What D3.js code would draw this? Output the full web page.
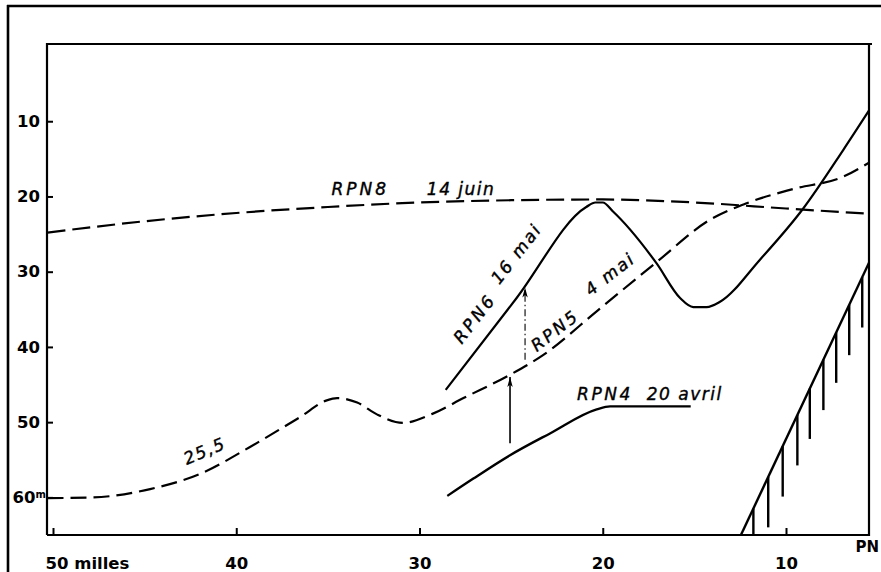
<!DOCTYPE html>
<html><head><meta charset="utf-8">
<script src="https://cdn.jsdelivr.net/npm/d3@7/dist/d3.min.js"></script>
<style>
html,body{margin:0;padding:0;background:#fff;}
svg{display:block;}
text{font-family:"DejaVu Sans",sans-serif;fill:#000;}
</style></head><body>
<svg id="c" width="881" height="572"></svg>
<script>
// ---- data (distance in milles, depth in m) ----
const xTicks = [50, 40, 30, 20, 10];
const xTickLabels = ["50 milles", "40", "30", "20", "10"];
const yTicks = [10, 20, 30, 40, 50, 60];
const yTickLabels = ["10", "20", "30", "40", "50", "60"];

const rpn8 = [[50.3,24.8],[45,23.3],[40,22.2],[35,21.4],[30,20.8],[25,20.5],[20,20.4],[15,20.8],[10,21.6],[5.47,22.3]];
const rpn5 = [[50.3,60.1],[47.8,60.0],[44.7,58.9],[42.0,56.9],[39.25,53.3],[37.45,50.7],[36.5,49.3],[35.06,47.1],[34.5,46.8],[33.4,47.4],[32.3,49.0],[30.9,50.1],[29.3,48.9],[27.6,46.8],[25.06,43.7],[23.26,41.1],[20.3,35.2],[17.05,28.7],[14.15,23.1],[12.15,20.9],[9.6,19.0],[6.9,17.4],[5.47,15.5]];
const rpn6 = [[28.57,45.7],[24.7,33.5],[20.9,21.4],[20.4,20.8],[20.0,20.8],[19.44,22.0],[17.06,28.9],[15.78,33.5],[15.06,34.7],[14.33,34.7],[13.6,34.0],[11.42,28.4],[9.06,21.6],[6.87,13.8],[5.45,8.5]];
const rpn4 = [[28.48,59.8],[27.06,57.5],[25.06,54.4],[22.88,51.5],[20.33,48.3],[19.6,47.9],[15.2,47.9]];
const seafloor = [[12.46,65],[5.45,28.7]];
const hatchMiles = [11.78,10.97,10.18,9.38,8.70,7.96,7.26,6.55,5.84];
const hatchLength = 6.7;
const arrowSolid = [[25.06,52.8],[25.06,44.0]];
const arrowDashDot = [[24.24,41.7],[24.24,32.1]];

// ---- layout ----
const W = 881, H = 572;
const plotLeft = 47, plotRight = 869, plotTop = 44, plotBottom = 535;
const svg = d3.select("#c");
const x = d3.scaleLinear().domain([50, 10]).range([53, 786]);
const y = d3.scaleLinear().domain([0, 65]).range([46, 535]);

const defs = svg.append("defs");
defs.append("clipPath").attr("id","plot").append("rect")
  .attr("x",plotLeft).attr("y",plotTop).attr("width",plotRight-plotLeft).attr("height",plotBottom-plotTop);
defs.append("marker").attr("id","arr").attr("viewBox","0 0 10 6")
  .attr("refX",10).attr("refY",3).attr("markerWidth",11).attr("markerHeight",6)
  .attr("markerUnits","userSpaceOnUse").attr("orient","auto")
  .append("path").attr("d","M0,0.3 L10,3 L0,5.7 L2.5,3 Z").attr("fill","#000");

// outer frame
svg.append("line").attr("x1",7).attr("y1",6).attr("x2",W).attr("y2",6).attr("stroke","#000").attr("stroke-width",2.6);
svg.append("line").attr("x1",8).attr("y1",5).attr("x2",8).attr("y2",H).attr("stroke","#000").attr("stroke-width",2.6);

// plot frame
svg.append("path")
  .attr("d",`M${plotLeft},${plotBottom}V${plotTop}H${plotRight+3}M${plotRight},${plotTop}V${plotBottom}H${plotLeft}`)
  .attr("fill","none").attr("stroke","#000").attr("stroke-width",2.2);

// axes
const yAxis = d3.axisLeft(y).tickValues(yTicks).tickFormat((d,i)=>yTickLabels[i])
  .tickSizeInner(-6).tickSizeOuter(0).tickPadding(7);
const gy = svg.append("g").attr("transform",`translate(${plotLeft},0)`).call(yAxis);
gy.select(".domain").remove();
gy.selectAll(".tick line").attr("stroke","#000").attr("stroke-width",2);
gy.selectAll(".tick text").style("font-size","16.5px").style("font-weight","bold").attr("fill","#000");
gy.selectAll(".tick text").filter(d=>d===60).append("tspan")
  .attr("dy","-0.55em").attr("dx","0").style("font-size","10px").text("m");
gy.selectAll(".tick text").filter(d=>d===60).attr("x",-1);

const xAxis = d3.axisBottom(x).tickValues(xTicks).tickFormat((d,i)=>xTickLabels[i])
  .tickSizeInner(-7).tickSizeOuter(0).tickPadding(22);
const gx = svg.append("g").attr("transform",`translate(0,${plotBottom})`).call(xAxis);
gx.select(".domain").remove();
gx.selectAll(".tick line").attr("stroke","#000").attr("stroke-width",2);
gx.selectAll(".tick text").style("font-size","16.5px").style("font-weight","bold").attr("fill","#000");
gx.selectAll(".tick text").filter(d=>d===50).attr("text-anchor","start").attr("x",-8);
svg.append("text").attr("x",879).attr("y",552).attr("text-anchor","end")
  .style("font-size","15px").style("font-weight","bold").text("PN");

// curves
const line = d3.line().x(d=>x(d[0])).y(d=>y(d[1])).curve(d3.curveMonotoneX);
const plot = svg.append("g").attr("clip-path","url(#plot)");
plot.append("path").attr("d",line(rpn8)).attr("fill","none").attr("stroke","#000").attr("stroke-width",2.2).attr("stroke-dasharray","18,7");
plot.append("path").attr("d",line(rpn5)).attr("fill","none").attr("stroke","#000").attr("stroke-width",2.2).attr("stroke-dasharray","16,7");
plot.append("path").attr("d",line(rpn6)).attr("fill","none").attr("stroke","#000").attr("stroke-width",2.2);
plot.append("path").attr("d",line(rpn4)).attr("fill","none").attr("stroke","#000").attr("stroke-width",2.4);

// sea floor slope + hatching
const straight = d3.line().x(d=>x(d[0])).y(d=>y(d[1]));
plot.append("path").attr("d",straight(seafloor)).attr("fill","none").attr("stroke","#000").attr("stroke-width",2.4);
const floorDepth = d3.scaleLinear().domain([seafloor[0][0],seafloor[1][0]]).range([seafloor[0][1],seafloor[1][1]]);
plot.selectAll("line.hatch").data(hatchMiles).join("line").attr("class","hatch")
  .attr("x1",d=>x(d)).attr("x2",d=>x(d))
  .attr("y1",d=>y(floorDepth(d))).attr("y2",d=>y(Math.min(65,floorDepth(d)+hatchLength)))
  .attr("stroke","#000").attr("stroke-width",2.4);

// arrows
svg.append("path").attr("d",straight(arrowSolid)).attr("stroke","#000").attr("stroke-width",1.6).attr("fill","none").attr("marker-end","url(#arr)");
svg.append("path").attr("d",straight(arrowDashDot)).attr("stroke","#000").attr("stroke-width",1.1).attr("fill","none")
  .attr("stroke-dasharray","7,3,1.5,3").attr("marker-end","url(#arr)");

// labels
function lab(txt, m, d, rot, size, spacing){
  const t = svg.append("text")
    .attr("transform",`translate(${x(m)},${y(d)}) rotate(${rot})`)
    .style("font-size",size+"px").style("font-style","italic")
    .style("letter-spacing",spacing+"px")
    .attr("stroke","#000").attr("stroke-width",0.4);
  t.text(txt);
  return t;
}
lab("RPN8", 34.8, 19.8, 0, 17, 3);
lab("14 juin", 29.6, 19.8, 0, 17, 1.5);
lab("RPN4", 21.4, 47.05, 0, 17, 2.5);
lab("20 avril", 17.6, 47.05, 0, 17, 1.5);
lab("RPN6", 27.7, 39.7, -52, 17, 3);
lab("16 mai", 25.65, 31.8, -52, 17, 2);
lab("RPN5", 23.6, 40.7, -38, 17, 2.5);
lab("4 mai", 20.65, 33.3, -38, 17, 2);
lab("25,5", 42.7, 55.7, -23, 17, 1.5);
</script>
</body></html>
